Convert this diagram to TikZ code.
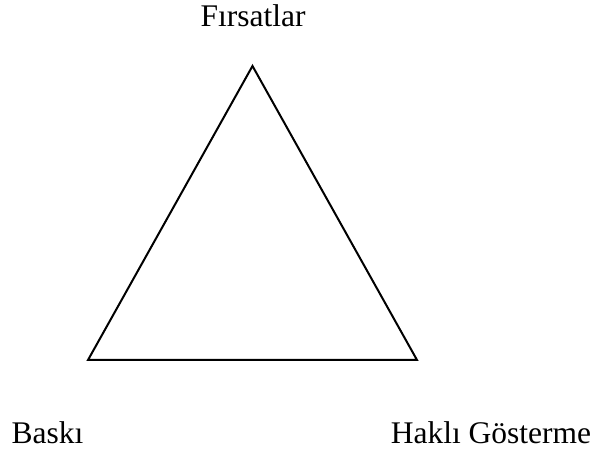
\documentclass[tikz,border=0pt]{standalone}
\usepackage{fontspec}
\setmainfont{Liberation Serif}
\usepackage{tikz}
\usetikzlibrary{positioning}

\begin{document}
\begin{tikzpicture}[
x=1pt,y=-1pt,
lbl/.style={inner sep=0pt,anchor=base,font=\fontsize{31.5}{36}\selectfont},
tri/.style={draw,line width=2pt,line join=miter}
]
\useasboundingbox (0,0) rectangle (595,454);
% corners of the triangle
\coordinate (apex) at (252.5,66);
\coordinate (left) at (88,360);
\coordinate (right) at (417,360);
\draw[tri] (apex) -- (left) -- (right) -- cycle;
% labels
\node[lbl] (firsat) at (253,27) {Fırsatlar};
\node[lbl] (baski) at (47.5,444) {Baskı};
\node[lbl] (hakli) at (491,444) {Haklı Gösterme};
\end{tikzpicture}
\end{document}
